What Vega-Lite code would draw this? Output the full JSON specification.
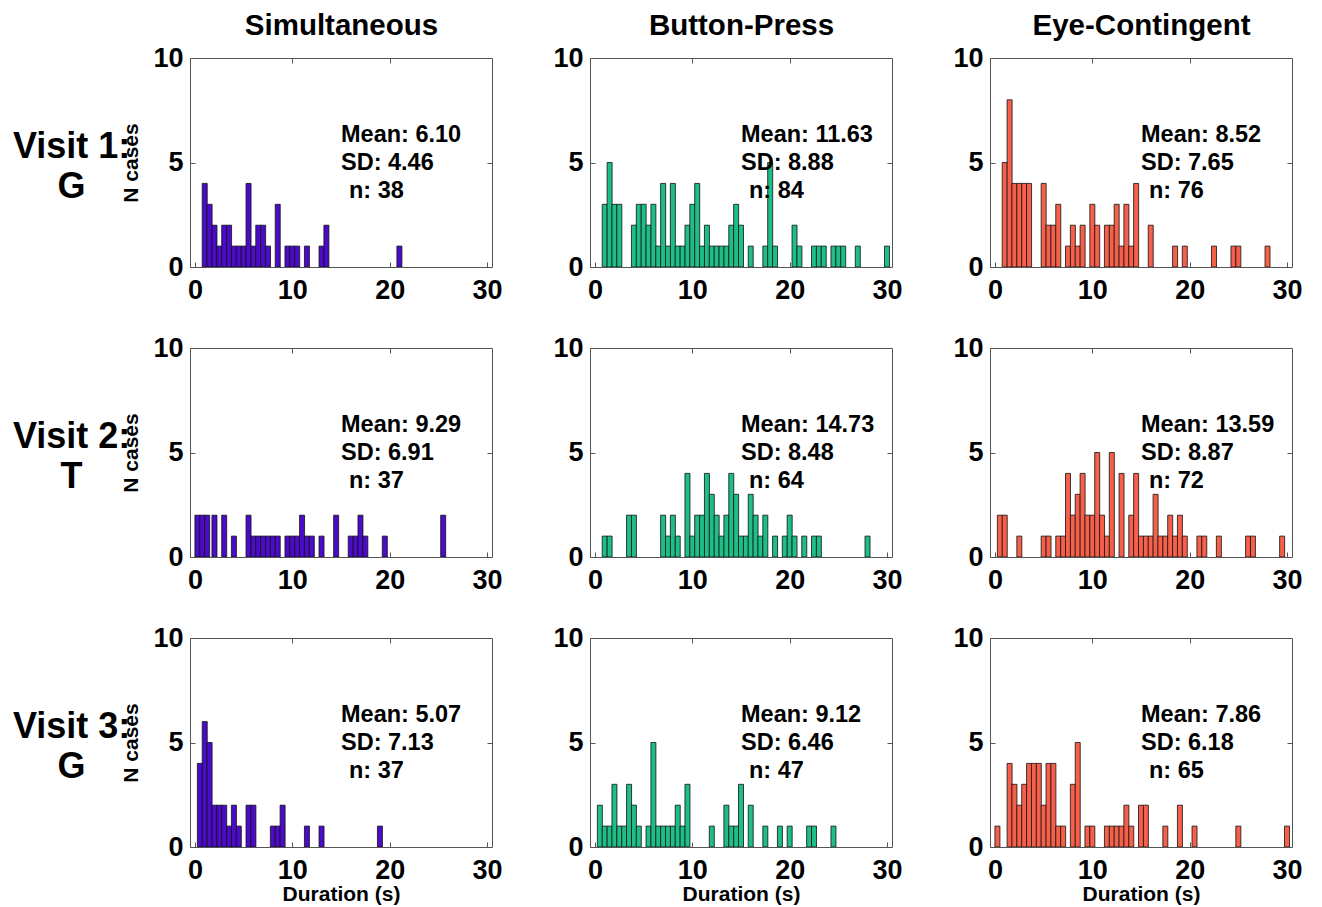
{
"$schema": "https://vega.github.io/schema/vega-lite/v6.json",
"background": "white",
"padding": {"left": 12, "top": 10, "right": 5, "bottom": 2},
"config": {
  "font": "Liberation Sans",
  "view": {"stroke": "#555555", "strokeWidth": 1},
  "axis": {"labelFont": "Liberation Sans", "labelFontWeight": "bold", "labelFontSize": 27, "labelColor": "black", "labelFlush": false, "domain": false, "grid": false, "tickSize": -5, "tickColor": "#555555", "labelPadding": 12, "titleFont": "Liberation Sans", "titleFontWeight": "bold", "titleFontSize": 21, "titleColor": "black"},
  "axisLeft": {"titlePadding": 11},
  "axisBottom": {"titlePadding": 0, "labelPadding": 15},
  "axisTop": {"titleFontSize": 29.5, "titlePadding": 17, "labels": false},
  "axisRight": {"labels": false},
  "title": {"font": "Liberation Sans", "fontSize": 36, "fontWeight": "bold", "color": "black"},
  "text": {"font": "Liberation Sans"}
},
"datasets": {
  "hist": [
    {"v":1,"c":"S","d":1.0,"n":4},{"v":1,"c":"S","d":1.5,"n":3},{"v":1,"c":"S","d":2.0,"n":2},{"v":1,"c":"S","d":2.5,"n":1},{"v":1,"c":"S","d":3.0,"n":2},{"v":1,"c":"S","d":3.5,"n":2},{"v":1,"c":"S","d":4.0,"n":1},{"v":1,"c":"S","d":4.5,"n":1},{"v":1,"c":"S","d":5.0,"n":1},{"v":1,"c":"S","d":5.5,"n":4},{"v":1,"c":"S","d":6.0,"n":1},{"v":1,"c":"S","d":6.5,"n":2},{"v":1,"c":"S","d":7.0,"n":2},{"v":1,"c":"S","d":7.5,"n":1},{"v":1,"c":"S","d":8.5,"n":3},{"v":1,"c":"S","d":9.5,"n":1},{"v":1,"c":"S","d":10.0,"n":1},{"v":1,"c":"S","d":10.5,"n":1},{"v":1,"c":"S","d":11.5,"n":1},{"v":1,"c":"S","d":13.0,"n":1},{"v":1,"c":"S","d":13.5,"n":2},{"v":1,"c":"S","d":21.0,"n":1},

    {"v":1,"c":"B","d":1.0,"n":3},{"v":1,"c":"B","d":1.5,"n":5},{"v":1,"c":"B","d":2.0,"n":3},{"v":1,"c":"B","d":2.5,"n":3},{"v":1,"c":"B","d":4.0,"n":2},{"v":1,"c":"B","d":4.5,"n":3},{"v":1,"c":"B","d":5.0,"n":3},{"v":1,"c":"B","d":5.5,"n":2},{"v":1,"c":"B","d":6.0,"n":3},{"v":1,"c":"B","d":6.5,"n":1},{"v":1,"c":"B","d":7.0,"n":4},{"v":1,"c":"B","d":7.5,"n":1},{"v":1,"c":"B","d":8.0,"n":4},{"v":1,"c":"B","d":8.5,"n":1},{"v":1,"c":"B","d":9.0,"n":1},{"v":1,"c":"B","d":9.5,"n":2},{"v":1,"c":"B","d":10.0,"n":3},{"v":1,"c":"B","d":10.5,"n":4},{"v":1,"c":"B","d":11.0,"n":1},{"v":1,"c":"B","d":11.5,"n":2},{"v":1,"c":"B","d":12.0,"n":1},{"v":1,"c":"B","d":12.5,"n":1},{"v":1,"c":"B","d":13.0,"n":1},{"v":1,"c":"B","d":13.5,"n":1},{"v":1,"c":"B","d":14.0,"n":2},{"v":1,"c":"B","d":14.5,"n":3},{"v":1,"c":"B","d":15.0,"n":2},{"v":1,"c":"B","d":16.0,"n":1},{"v":1,"c":"B","d":17.5,"n":1},{"v":1,"c":"B","d":18.0,"n":5},{"v":1,"c":"B","d":18.5,"n":1},{"v":1,"c":"B","d":20.5,"n":2},{"v":1,"c":"B","d":21.0,"n":1},{"v":1,"c":"B","d":22.5,"n":1},{"v":1,"c":"B","d":23.0,"n":1},{"v":1,"c":"B","d":23.5,"n":1},{"v":1,"c":"B","d":24.5,"n":1},{"v":1,"c":"B","d":25.0,"n":1},{"v":1,"c":"B","d":25.5,"n":1},{"v":1,"c":"B","d":27.0,"n":1},{"v":1,"c":"B","d":30.0,"n":1},

    {"v":1,"c":"E","d":1.0,"n":5},{"v":1,"c":"E","d":1.5,"n":8},{"v":1,"c":"E","d":2.0,"n":4},{"v":1,"c":"E","d":2.5,"n":4},{"v":1,"c":"E","d":3.0,"n":4},{"v":1,"c":"E","d":3.5,"n":4},{"v":1,"c":"E","d":5.0,"n":4},{"v":1,"c":"E","d":5.5,"n":2},{"v":1,"c":"E","d":6.0,"n":2},{"v":1,"c":"E","d":6.5,"n":3},{"v":1,"c":"E","d":7.5,"n":1},{"v":1,"c":"E","d":8.0,"n":2},{"v":1,"c":"E","d":8.5,"n":1},{"v":1,"c":"E","d":9.0,"n":2},{"v":1,"c":"E","d":10.0,"n":3},{"v":1,"c":"E","d":10.5,"n":2},{"v":1,"c":"E","d":11.5,"n":2},{"v":1,"c":"E","d":12.0,"n":2},{"v":1,"c":"E","d":12.5,"n":3},{"v":1,"c":"E","d":13.0,"n":1},{"v":1,"c":"E","d":13.5,"n":3},{"v":1,"c":"E","d":14.0,"n":1},{"v":1,"c":"E","d":14.5,"n":4},{"v":1,"c":"E","d":16.0,"n":2},{"v":1,"c":"E","d":18.5,"n":1},{"v":1,"c":"E","d":19.5,"n":1},{"v":1,"c":"E","d":22.5,"n":1},{"v":1,"c":"E","d":24.5,"n":1},{"v":1,"c":"E","d":25.0,"n":1},{"v":1,"c":"E","d":28.0,"n":1},

    {"v":2,"c":"S","d":0.25,"n":2},{"v":2,"c":"S","d":0.75,"n":2},{"v":2,"c":"S","d":1.25,"n":2},{"v":2,"c":"S","d":2.0,"n":2},{"v":2,"c":"S","d":3.0,"n":2},{"v":2,"c":"S","d":4.0,"n":1},{"v":2,"c":"S","d":5.5,"n":2},{"v":2,"c":"S","d":6.0,"n":1},{"v":2,"c":"S","d":6.5,"n":1},{"v":2,"c":"S","d":7.0,"n":1},{"v":2,"c":"S","d":7.5,"n":1},{"v":2,"c":"S","d":8.0,"n":1},{"v":2,"c":"S","d":8.5,"n":1},{"v":2,"c":"S","d":9.5,"n":1},{"v":2,"c":"S","d":10.0,"n":1},{"v":2,"c":"S","d":10.5,"n":1},{"v":2,"c":"S","d":11.0,"n":2},{"v":2,"c":"S","d":11.5,"n":1},{"v":2,"c":"S","d":12.0,"n":1},{"v":2,"c":"S","d":13.0,"n":1},{"v":2,"c":"S","d":14.5,"n":2},{"v":2,"c":"S","d":16.0,"n":1},{"v":2,"c":"S","d":16.5,"n":1},{"v":2,"c":"S","d":17.0,"n":2},{"v":2,"c":"S","d":17.5,"n":1},{"v":2,"c":"S","d":19.5,"n":1},{"v":2,"c":"S","d":25.5,"n":2},

    {"v":2,"c":"B","d":1.0,"n":1},{"v":2,"c":"B","d":1.5,"n":1},{"v":2,"c":"B","d":3.5,"n":2},{"v":2,"c":"B","d":4.0,"n":2},{"v":2,"c":"B","d":7.0,"n":2},{"v":2,"c":"B","d":7.5,"n":1},{"v":2,"c":"B","d":8.0,"n":2},{"v":2,"c":"B","d":8.5,"n":1},{"v":2,"c":"B","d":9.5,"n":4},{"v":2,"c":"B","d":10.0,"n":1},{"v":2,"c":"B","d":10.5,"n":2},{"v":2,"c":"B","d":11.0,"n":2},{"v":2,"c":"B","d":11.5,"n":4},{"v":2,"c":"B","d":12.0,"n":3},{"v":2,"c":"B","d":12.5,"n":2},{"v":2,"c":"B","d":13.0,"n":1},{"v":2,"c":"B","d":13.5,"n":2},{"v":2,"c":"B","d":14.0,"n":4},{"v":2,"c":"B","d":14.5,"n":3},{"v":2,"c":"B","d":15.0,"n":1},{"v":2,"c":"B","d":15.5,"n":1},{"v":2,"c":"B","d":16.0,"n":3},{"v":2,"c":"B","d":16.5,"n":2},{"v":2,"c":"B","d":17.0,"n":1},{"v":2,"c":"B","d":17.5,"n":2},{"v":2,"c":"B","d":18.5,"n":1},{"v":2,"c":"B","d":19.5,"n":1},{"v":2,"c":"B","d":20.0,"n":2},{"v":2,"c":"B","d":20.5,"n":1},{"v":2,"c":"B","d":21.5,"n":1},{"v":2,"c":"B","d":22.5,"n":1},{"v":2,"c":"B","d":23.0,"n":1},{"v":2,"c":"B","d":28.0,"n":1},

    {"v":2,"c":"E","d":0.5,"n":2},{"v":2,"c":"E","d":1.0,"n":2},{"v":2,"c":"E","d":2.5,"n":1},{"v":2,"c":"E","d":5.0,"n":1},{"v":2,"c":"E","d":5.5,"n":1},{"v":2,"c":"E","d":6.5,"n":1},{"v":2,"c":"E","d":7.0,"n":1},{"v":2,"c":"E","d":7.5,"n":4},{"v":2,"c":"E","d":8.0,"n":2},{"v":2,"c":"E","d":8.5,"n":3},{"v":2,"c":"E","d":9.0,"n":4},{"v":2,"c":"E","d":9.5,"n":2},{"v":2,"c":"E","d":10.0,"n":2},{"v":2,"c":"E","d":10.5,"n":5},{"v":2,"c":"E","d":11.0,"n":2},{"v":2,"c":"E","d":11.5,"n":1},{"v":2,"c":"E","d":12.0,"n":5},{"v":2,"c":"E","d":13.0,"n":4},{"v":2,"c":"E","d":14.0,"n":2},{"v":2,"c":"E","d":14.5,"n":4},{"v":2,"c":"E","d":15.0,"n":1},{"v":2,"c":"E","d":15.5,"n":1},{"v":2,"c":"E","d":16.0,"n":1},{"v":2,"c":"E","d":16.5,"n":3},{"v":2,"c":"E","d":17.0,"n":1},{"v":2,"c":"E","d":17.5,"n":1},{"v":2,"c":"E","d":18.0,"n":2},{"v":2,"c":"E","d":18.5,"n":1},{"v":2,"c":"E","d":19.0,"n":2},{"v":2,"c":"E","d":19.5,"n":1},{"v":2,"c":"E","d":21.0,"n":1},{"v":2,"c":"E","d":21.5,"n":1},{"v":2,"c":"E","d":23.0,"n":1},{"v":2,"c":"E","d":26.0,"n":1},{"v":2,"c":"E","d":26.5,"n":1},{"v":2,"c":"E","d":29.5,"n":1},

    {"v":3,"c":"S","d":0.5,"n":4},{"v":3,"c":"S","d":1.0,"n":6},{"v":3,"c":"S","d":1.5,"n":5},{"v":3,"c":"S","d":2.0,"n":2},{"v":3,"c":"S","d":2.5,"n":2},{"v":3,"c":"S","d":3.0,"n":2},{"v":3,"c":"S","d":3.5,"n":1},{"v":3,"c":"S","d":4.0,"n":2},{"v":3,"c":"S","d":4.5,"n":1},{"v":3,"c":"S","d":5.5,"n":2},{"v":3,"c":"S","d":6.0,"n":2},{"v":3,"c":"S","d":8.0,"n":1},{"v":3,"c":"S","d":8.5,"n":1},{"v":3,"c":"S","d":9.0,"n":2},{"v":3,"c":"S","d":11.5,"n":1},{"v":3,"c":"S","d":13.0,"n":1},{"v":3,"c":"S","d":19.0,"n":1},

    {"v":3,"c":"B","d":0.5,"n":2},{"v":3,"c":"B","d":1.0,"n":1},{"v":3,"c":"B","d":1.5,"n":1},{"v":3,"c":"B","d":2.0,"n":3},{"v":3,"c":"B","d":2.5,"n":1},{"v":3,"c":"B","d":3.0,"n":1},{"v":3,"c":"B","d":3.5,"n":3},{"v":3,"c":"B","d":4.0,"n":2},{"v":3,"c":"B","d":4.5,"n":1},{"v":3,"c":"B","d":5.5,"n":1},{"v":3,"c":"B","d":6.0,"n":5},{"v":3,"c":"B","d":6.5,"n":1},{"v":3,"c":"B","d":7.0,"n":1},{"v":3,"c":"B","d":7.5,"n":1},{"v":3,"c":"B","d":8.0,"n":1},{"v":3,"c":"B","d":8.5,"n":2},{"v":3,"c":"B","d":9.0,"n":1},{"v":3,"c":"B","d":9.5,"n":3},{"v":3,"c":"B","d":12.0,"n":1},{"v":3,"c":"B","d":13.5,"n":2},{"v":3,"c":"B","d":14.0,"n":1},{"v":3,"c":"B","d":14.5,"n":1},{"v":3,"c":"B","d":15.0,"n":3},{"v":3,"c":"B","d":16.0,"n":2},{"v":3,"c":"B","d":17.5,"n":1},{"v":3,"c":"B","d":19.0,"n":1},{"v":3,"c":"B","d":20.0,"n":1},{"v":3,"c":"B","d":22.0,"n":1},{"v":3,"c":"B","d":22.5,"n":1},{"v":3,"c":"B","d":24.5,"n":1},

    {"v":3,"c":"E","d":0.25,"n":1},{"v":3,"c":"E","d":1.5,"n":4},{"v":3,"c":"E","d":2.0,"n":3},{"v":3,"c":"E","d":2.5,"n":2},{"v":3,"c":"E","d":3.0,"n":3},{"v":3,"c":"E","d":3.5,"n":4},{"v":3,"c":"E","d":4.0,"n":4},{"v":3,"c":"E","d":4.5,"n":4},{"v":3,"c":"E","d":5.0,"n":2},{"v":3,"c":"E","d":5.5,"n":4},{"v":3,"c":"E","d":6.0,"n":4},{"v":3,"c":"E","d":6.5,"n":1},{"v":3,"c":"E","d":7.0,"n":1},{"v":3,"c":"E","d":8.0,"n":3},{"v":3,"c":"E","d":8.5,"n":5},{"v":3,"c":"E","d":9.5,"n":1},{"v":3,"c":"E","d":10.0,"n":1},{"v":3,"c":"E","d":11.5,"n":1},{"v":3,"c":"E","d":12.0,"n":1},{"v":3,"c":"E","d":12.5,"n":1},{"v":3,"c":"E","d":13.0,"n":1},{"v":3,"c":"E","d":13.5,"n":2},{"v":3,"c":"E","d":14.0,"n":1},{"v":3,"c":"E","d":15.0,"n":2},{"v":3,"c":"E","d":15.5,"n":2},{"v":3,"c":"E","d":17.5,"n":1},{"v":3,"c":"E","d":19.0,"n":2},{"v":3,"c":"E","d":20.5,"n":1},{"v":3,"c":"E","d":25.0,"n":1},{"v":3,"c":"E","d":30.0,"n":1}
  ],
  "stats": [
    {"v":1,"c":"S","ms":["Mean: 6.10","SD: 4.46"],"nl":"n: 38"},
    {"v":1,"c":"B","ms":["Mean: 11.63","SD: 8.88"],"nl":"n: 84"},
    {"v":1,"c":"E","ms":["Mean: 8.52","SD: 7.65"],"nl":"n: 76"},
    {"v":2,"c":"S","ms":["Mean: 9.29","SD: 6.91"],"nl":"n: 37"},
    {"v":2,"c":"B","ms":["Mean: 14.73","SD: 8.48"],"nl":"n: 64"},
    {"v":2,"c":"E","ms":["Mean: 13.59","SD: 8.87"],"nl":"n: 72"},
    {"v":3,"c":"S","ms":["Mean: 5.07","SD: 7.13"],"nl":"n: 37"},
    {"v":3,"c":"B","ms":["Mean: 9.12","SD: 6.46"],"nl":"n: 47"},
    {"v":3,"c":"E","ms":["Mean: 7.86","SD: 6.18"],"nl":"n: 65"}
  ]
},
"columns": 3,
"spacing": {"row": 81, "column": 98},
"bounds": "flush",
"concat": [
  {"width": 302, "height": 209,
   "title": {"text": ["Visit 1:", "G"], "orient": "left", "angle": 0, "align": "center", "baseline": "middle", "anchor": "middle", "lineHeight": 40, "offset": -68, "dy": -16},
   "resolve": {"axis": {"x": "independent", "y": "independent"}},
   "layer": [
    {"data": {"name": "hist"}, "transform": [{"filter": "datum.v==1 && datum.c=='S'"}], "mark": {"type": "bar", "width": 5, "fill": "#4B0BC9", "stroke": "#111111", "strokeWidth": 0.8, "clip": true},
     "encoding": {"x": {"field": "d", "type": "quantitative", "scale": {"domain": [0, 30], "nice": false, "zero": false}, "axis": {"orient": "bottom", "values": [0, 10, 20, 30], "title": null}},
                  "y": {"field": "n", "type": "quantitative", "scale": {"domain": [0, 10], "nice": false}, "axis": {"orient": "left", "values": [0, 5, 10], "title": "N cases"}}}},
    {"data": {"name": "stats"}, "transform": [{"filter": "datum.v==1 && datum.c=='S'"}], "mark": {"type": "text", "align": "left", "baseline": "middle", "fontSize": 23.5, "fontWeight": "bold", "lineHeight": 28, "color": "black"},
     "encoding": {"x": {"datum": 15, "type": "quantitative", "axis": {"orient": "top", "values": [10, 20], "title": "Simultaneous"}}, "y": {"datum": 6.3, "type": "quantitative", "axis": {"orient": "right", "values": [5], "title": null}}, "text": {"field": "ms"}}},
    {"data": {"name": "stats"}, "transform": [{"filter": "datum.v==1 && datum.c=='S'"}], "mark": {"type": "text", "align": "left", "baseline": "middle", "fontSize": 23.5, "fontWeight": "bold", "color": "black", "dx": 8, "dy": 56},
     "encoding": {"x": {"datum": 15, "type": "quantitative", "axis": null}, "y": {"datum": 6.3, "type": "quantitative", "axis": null}, "text": {"field": "nl"}}}
   ]},
  {"width": 302, "height": 209,
   "resolve": {"axis": {"x": "independent", "y": "independent"}},
   "layer": [
    {"data": {"name": "hist"}, "transform": [{"filter": "datum.v==1 && datum.c=='B'"}], "mark": {"type": "bar", "width": 5, "fill": "#1EBE86", "stroke": "#111111", "strokeWidth": 0.8, "clip": true},
     "encoding": {"x": {"field": "d", "type": "quantitative", "scale": {"domain": [0, 30], "nice": false, "zero": false}, "axis": {"orient": "bottom", "values": [0, 10, 20, 30], "title": null}},
                  "y": {"field": "n", "type": "quantitative", "scale": {"domain": [0, 10], "nice": false}, "axis": {"orient": "left", "values": [0, 5, 10], "title": null}}}},
    {"data": {"name": "stats"}, "transform": [{"filter": "datum.v==1 && datum.c=='B'"}], "mark": {"type": "text", "align": "left", "baseline": "middle", "fontSize": 23.5, "fontWeight": "bold", "lineHeight": 28, "color": "black"},
     "encoding": {"x": {"datum": 15, "type": "quantitative", "axis": {"orient": "top", "values": [10, 20], "title": "Button-Press"}}, "y": {"datum": 6.3, "type": "quantitative", "axis": {"orient": "right", "values": [5], "title": null}}, "text": {"field": "ms"}}},
    {"data": {"name": "stats"}, "transform": [{"filter": "datum.v==1 && datum.c=='B'"}], "mark": {"type": "text", "align": "left", "baseline": "middle", "fontSize": 23.5, "fontWeight": "bold", "color": "black", "dx": 8, "dy": 56},
     "encoding": {"x": {"datum": 15, "type": "quantitative", "axis": null}, "y": {"datum": 6.3, "type": "quantitative", "axis": null}, "text": {"field": "nl"}}}
   ]},
  {"width": 302, "height": 209,
   "resolve": {"axis": {"x": "independent", "y": "independent"}},
   "layer": [
    {"data": {"name": "hist"}, "transform": [{"filter": "datum.v==1 && datum.c=='E'"}], "mark": {"type": "bar", "width": 5, "fill": "#F6604A", "stroke": "#111111", "strokeWidth": 0.8, "clip": true},
     "encoding": {"x": {"field": "d", "type": "quantitative", "scale": {"domain": [0, 30], "nice": false, "zero": false}, "axis": {"orient": "bottom", "values": [0, 10, 20, 30], "title": null}},
                  "y": {"field": "n", "type": "quantitative", "scale": {"domain": [0, 10], "nice": false}, "axis": {"orient": "left", "values": [0, 5, 10], "title": null}}}},
    {"data": {"name": "stats"}, "transform": [{"filter": "datum.v==1 && datum.c=='E'"}], "mark": {"type": "text", "align": "left", "baseline": "middle", "fontSize": 23.5, "fontWeight": "bold", "lineHeight": 28, "color": "black"},
     "encoding": {"x": {"datum": 15, "type": "quantitative", "axis": {"orient": "top", "values": [10, 20], "title": "Eye-Contingent"}}, "y": {"datum": 6.3, "type": "quantitative", "axis": {"orient": "right", "values": [5], "title": null}}, "text": {"field": "ms"}}},
    {"data": {"name": "stats"}, "transform": [{"filter": "datum.v==1 && datum.c=='E'"}], "mark": {"type": "text", "align": "left", "baseline": "middle", "fontSize": 23.5, "fontWeight": "bold", "color": "black", "dx": 8, "dy": 56},
     "encoding": {"x": {"datum": 15, "type": "quantitative", "axis": null}, "y": {"datum": 6.3, "type": "quantitative", "axis": null}, "text": {"field": "nl"}}}
   ]},

  {"width": 302, "height": 209,
   "title": {"text": ["Visit 2:", "T"], "orient": "left", "angle": 0, "align": "center", "baseline": "middle", "anchor": "middle", "lineHeight": 40, "offset": -68, "dy": -16},
   "resolve": {"axis": {"x": "independent", "y": "independent"}},
   "layer": [
    {"data": {"name": "hist"}, "transform": [{"filter": "datum.v==2 && datum.c=='S'"}], "mark": {"type": "bar", "width": 5, "fill": "#4B0BC9", "stroke": "#111111", "strokeWidth": 0.8, "clip": true},
     "encoding": {"x": {"field": "d", "type": "quantitative", "scale": {"domain": [0, 30], "nice": false, "zero": false}, "axis": {"orient": "bottom", "values": [0, 10, 20, 30], "title": null}},
                  "y": {"field": "n", "type": "quantitative", "scale": {"domain": [0, 10], "nice": false}, "axis": {"orient": "left", "values": [0, 5, 10], "title": "N cases"}}}},
    {"data": {"name": "stats"}, "transform": [{"filter": "datum.v==2 && datum.c=='S'"}], "mark": {"type": "text", "align": "left", "baseline": "middle", "fontSize": 23.5, "fontWeight": "bold", "lineHeight": 28, "color": "black"},
     "encoding": {"x": {"datum": 15, "type": "quantitative", "axis": {"orient": "top", "values": [10, 20], "title": null}}, "y": {"datum": 6.3, "type": "quantitative", "axis": {"orient": "right", "values": [5], "title": null}}, "text": {"field": "ms"}}},
    {"data": {"name": "stats"}, "transform": [{"filter": "datum.v==2 && datum.c=='S'"}], "mark": {"type": "text", "align": "left", "baseline": "middle", "fontSize": 23.5, "fontWeight": "bold", "color": "black", "dx": 8, "dy": 56},
     "encoding": {"x": {"datum": 15, "type": "quantitative", "axis": null}, "y": {"datum": 6.3, "type": "quantitative", "axis": null}, "text": {"field": "nl"}}}
   ]},
  {"width": 302, "height": 209,
   "resolve": {"axis": {"x": "independent", "y": "independent"}},
   "layer": [
    {"data": {"name": "hist"}, "transform": [{"filter": "datum.v==2 && datum.c=='B'"}], "mark": {"type": "bar", "width": 5, "fill": "#1EBE86", "stroke": "#111111", "strokeWidth": 0.8, "clip": true},
     "encoding": {"x": {"field": "d", "type": "quantitative", "scale": {"domain": [0, 30], "nice": false, "zero": false}, "axis": {"orient": "bottom", "values": [0, 10, 20, 30], "title": null}},
                  "y": {"field": "n", "type": "quantitative", "scale": {"domain": [0, 10], "nice": false}, "axis": {"orient": "left", "values": [0, 5, 10], "title": null}}}},
    {"data": {"name": "stats"}, "transform": [{"filter": "datum.v==2 && datum.c=='B'"}], "mark": {"type": "text", "align": "left", "baseline": "middle", "fontSize": 23.5, "fontWeight": "bold", "lineHeight": 28, "color": "black"},
     "encoding": {"x": {"datum": 15, "type": "quantitative", "axis": {"orient": "top", "values": [10, 20], "title": null}}, "y": {"datum": 6.3, "type": "quantitative", "axis": {"orient": "right", "values": [5], "title": null}}, "text": {"field": "ms"}}},
    {"data": {"name": "stats"}, "transform": [{"filter": "datum.v==2 && datum.c=='B'"}], "mark": {"type": "text", "align": "left", "baseline": "middle", "fontSize": 23.5, "fontWeight": "bold", "color": "black", "dx": 8, "dy": 56},
     "encoding": {"x": {"datum": 15, "type": "quantitative", "axis": null}, "y": {"datum": 6.3, "type": "quantitative", "axis": null}, "text": {"field": "nl"}}}
   ]},
  {"width": 302, "height": 209,
   "resolve": {"axis": {"x": "independent", "y": "independent"}},
   "layer": [
    {"data": {"name": "hist"}, "transform": [{"filter": "datum.v==2 && datum.c=='E'"}], "mark": {"type": "bar", "width": 5, "fill": "#F6604A", "stroke": "#111111", "strokeWidth": 0.8, "clip": true},
     "encoding": {"x": {"field": "d", "type": "quantitative", "scale": {"domain": [0, 30], "nice": false, "zero": false}, "axis": {"orient": "bottom", "values": [0, 10, 20, 30], "title": null}},
                  "y": {"field": "n", "type": "quantitative", "scale": {"domain": [0, 10], "nice": false}, "axis": {"orient": "left", "values": [0, 5, 10], "title": null}}}},
    {"data": {"name": "stats"}, "transform": [{"filter": "datum.v==2 && datum.c=='E'"}], "mark": {"type": "text", "align": "left", "baseline": "middle", "fontSize": 23.5, "fontWeight": "bold", "lineHeight": 28, "color": "black"},
     "encoding": {"x": {"datum": 15, "type": "quantitative", "axis": {"orient": "top", "values": [10, 20], "title": null}}, "y": {"datum": 6.3, "type": "quantitative", "axis": {"orient": "right", "values": [5], "title": null}}, "text": {"field": "ms"}}},
    {"data": {"name": "stats"}, "transform": [{"filter": "datum.v==2 && datum.c=='E'"}], "mark": {"type": "text", "align": "left", "baseline": "middle", "fontSize": 23.5, "fontWeight": "bold", "color": "black", "dx": 8, "dy": 56},
     "encoding": {"x": {"datum": 15, "type": "quantitative", "axis": null}, "y": {"datum": 6.3, "type": "quantitative", "axis": null}, "text": {"field": "nl"}}}
   ]},

  {"width": 302, "height": 209,
   "title": {"text": ["Visit 3:", "G"], "orient": "left", "angle": 0, "align": "center", "baseline": "middle", "anchor": "middle", "lineHeight": 40, "offset": -68, "dy": -16},
   "resolve": {"axis": {"x": "independent", "y": "independent"}},
   "layer": [
    {"data": {"name": "hist"}, "transform": [{"filter": "datum.v==3 && datum.c=='S'"}], "mark": {"type": "bar", "width": 5, "fill": "#4B0BC9", "stroke": "#111111", "strokeWidth": 0.8, "clip": true},
     "encoding": {"x": {"field": "d", "type": "quantitative", "scale": {"domain": [0, 30], "nice": false, "zero": false}, "axis": {"orient": "bottom", "values": [0, 10, 20, 30], "title": "Duration (s)"}},
                  "y": {"field": "n", "type": "quantitative", "scale": {"domain": [0, 10], "nice": false}, "axis": {"orient": "left", "values": [0, 5, 10], "title": "N cases"}}}},
    {"data": {"name": "stats"}, "transform": [{"filter": "datum.v==3 && datum.c=='S'"}], "mark": {"type": "text", "align": "left", "baseline": "middle", "fontSize": 23.5, "fontWeight": "bold", "lineHeight": 28, "color": "black"},
     "encoding": {"x": {"datum": 15, "type": "quantitative", "axis": {"orient": "top", "values": [10, 20], "title": null}}, "y": {"datum": 6.3, "type": "quantitative", "axis": {"orient": "right", "values": [5], "title": null}}, "text": {"field": "ms"}}},
    {"data": {"name": "stats"}, "transform": [{"filter": "datum.v==3 && datum.c=='S'"}], "mark": {"type": "text", "align": "left", "baseline": "middle", "fontSize": 23.5, "fontWeight": "bold", "color": "black", "dx": 8, "dy": 56},
     "encoding": {"x": {"datum": 15, "type": "quantitative", "axis": null}, "y": {"datum": 6.3, "type": "quantitative", "axis": null}, "text": {"field": "nl"}}}
   ]},
  {"width": 302, "height": 209,
   "resolve": {"axis": {"x": "independent", "y": "independent"}},
   "layer": [
    {"data": {"name": "hist"}, "transform": [{"filter": "datum.v==3 && datum.c=='B'"}], "mark": {"type": "bar", "width": 5, "fill": "#1EBE86", "stroke": "#111111", "strokeWidth": 0.8, "clip": true},
     "encoding": {"x": {"field": "d", "type": "quantitative", "scale": {"domain": [0, 30], "nice": false, "zero": false}, "axis": {"orient": "bottom", "values": [0, 10, 20, 30], "title": "Duration (s)"}},
                  "y": {"field": "n", "type": "quantitative", "scale": {"domain": [0, 10], "nice": false}, "axis": {"orient": "left", "values": [0, 5, 10], "title": null}}}},
    {"data": {"name": "stats"}, "transform": [{"filter": "datum.v==3 && datum.c=='B'"}], "mark": {"type": "text", "align": "left", "baseline": "middle", "fontSize": 23.5, "fontWeight": "bold", "lineHeight": 28, "color": "black"},
     "encoding": {"x": {"datum": 15, "type": "quantitative", "axis": {"orient": "top", "values": [10, 20], "title": null}}, "y": {"datum": 6.3, "type": "quantitative", "axis": {"orient": "right", "values": [5], "title": null}}, "text": {"field": "ms"}}},
    {"data": {"name": "stats"}, "transform": [{"filter": "datum.v==3 && datum.c=='B'"}], "mark": {"type": "text", "align": "left", "baseline": "middle", "fontSize": 23.5, "fontWeight": "bold", "color": "black", "dx": 8, "dy": 56},
     "encoding": {"x": {"datum": 15, "type": "quantitative", "axis": null}, "y": {"datum": 6.3, "type": "quantitative", "axis": null}, "text": {"field": "nl"}}}
   ]},
  {"width": 302, "height": 209,
   "resolve": {"axis": {"x": "independent", "y": "independent"}},
   "layer": [
    {"data": {"name": "hist"}, "transform": [{"filter": "datum.v==3 && datum.c=='E'"}], "mark": {"type": "bar", "width": 5, "fill": "#F6604A", "stroke": "#111111", "strokeWidth": 0.8, "clip": true},
     "encoding": {"x": {"field": "d", "type": "quantitative", "scale": {"domain": [0, 30], "nice": false, "zero": false}, "axis": {"orient": "bottom", "values": [0, 10, 20, 30], "title": "Duration (s)"}},
                  "y": {"field": "n", "type": "quantitative", "scale": {"domain": [0, 10], "nice": false}, "axis": {"orient": "left", "values": [0, 5, 10], "title": null}}}},
    {"data": {"name": "stats"}, "transform": [{"filter": "datum.v==3 && datum.c=='E'"}], "mark": {"type": "text", "align": "left", "baseline": "middle", "fontSize": 23.5, "fontWeight": "bold", "lineHeight": 28, "color": "black"},
     "encoding": {"x": {"datum": 15, "type": "quantitative", "axis": {"orient": "top", "values": [10, 20], "title": null}}, "y": {"datum": 6.3, "type": "quantitative", "axis": {"orient": "right", "values": [5], "title": null}}, "text": {"field": "ms"}}},
    {"data": {"name": "stats"}, "transform": [{"filter": "datum.v==3 && datum.c=='E'"}], "mark": {"type": "text", "align": "left", "baseline": "middle", "fontSize": 23.5, "fontWeight": "bold", "color": "black", "dx": 8, "dy": 56},
     "encoding": {"x": {"datum": 15, "type": "quantitative", "axis": null}, "y": {"datum": 6.3, "type": "quantitative", "axis": null}, "text": {"field": "nl"}}}
   ]}
]
}
